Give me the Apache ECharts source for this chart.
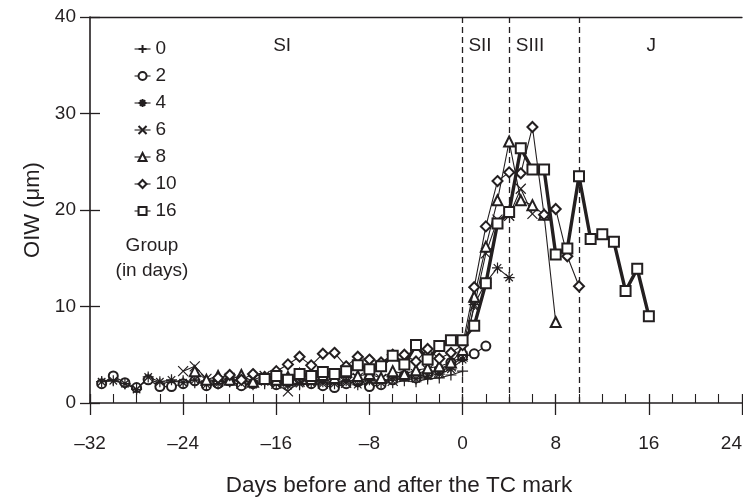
<!DOCTYPE html>
<html>
<head>
<meta charset="utf-8">
<script src="https://cdn.jsdelivr.net/npm/echarts@6/dist/echarts.min.js"></script>
<style>
html,body{margin:0;padding:0;background:#fff;}
#chart{width:743px;height:504px;}
</style>
</head>
<body>
<div id="chart"></div>
<script>
// ---- Data (OIW in µm by day relative to the TC mark) ----
const groupNames = ['0', '2', '4', '6', '8', '10', '16'];
const startDays = [-31, -31, -31, -24, -23, -21, -17];

const oiw0 = [2.2, 2.4, 2.0, 1.5, 2.5, 2.0, 2.2, 2.3, 2.1, 2.3, 2.0, 2.2, 1.9, 2.1, 2.0, 2.2, 2.0, 1.9, 2.1, 2.0, 1.8, 2.1, 2.2, 2.0, 2.3, 2.1, 2.3, 2.2, 2.5, 2.6, 2.9, 3.3];
const oiw2 = [2.0, 2.8, 2.1, 1.6, 2.4, 1.7, 1.7, 2.0, 2.3, 1.8, 2.0, 2.3, 1.8, 2.0, 2.4, 1.9, 2.2, 2.5, 2.0, 1.8, 1.6, 2.0, 2.2, 1.7, 1.9, 2.4, 2.8, 2.6, 3.0, 3.4, 4.2, 4.8, 5.1, 5.9];
const oiw4 = [2.2, 2.3, 2.0, 1.4, 2.7, 2.2, 2.4, 2.1, 2.4, 1.9, 2.0, 2.2, 2.5, 1.9, 2.2, 2.0, 1.8, 2.0, 2.1, 2.2, 2.0, 2.3, 1.9, 2.4, 2.1, 2.6, 2.9, 2.5, 2.8, 3.0, 3.5, 4.5, 10.2, 12.5, 14.0, 13.0];
const oiw6 = [3.3, 3.8, 2.5, 2.2, 2.6, 2.0, 2.4, 2.8, 2.0, 1.2, 2.2, 2.5, 2.0, 2.4, 2.1, 2.6, 2.2, 2.5, 2.3, 2.7, 3.0, 3.4, 3.2, 3.8, 4.8, 10.0, 15.5, 19.0, 19.4, 22.2, 19.6];
const oiw8 = [3.3, 2.4, 2.8, 2.4, 2.9, 2.2, 2.6, 2.4, 2.7, 3.0, 2.5, 2.9, 2.6, 3.2, 2.8, 3.0, 2.6, 3.3, 3.0, 3.4, 3.6, 3.8, 4.2, 5.5, 11.0, 16.2, 21.0, 27.1, 21.0, 20.5, 19.5, 8.4];
const oiw10 = [2.6, 2.9, 2.4, 3.0, 2.7, 3.3, 4.0, 4.8, 3.9, 5.1, 5.2, 3.8, 4.8, 4.5, 4.2, 5.0, 5.0, 4.3, 5.6, 4.6, 5.2, 6.0, 12.0, 18.3, 23.0, 23.9, 23.8, 28.6, 19.5, 20.1, 15.2, 12.1];
const oiw16 = [2.5, 2.8, 2.4, 3.0, 2.8, 3.2, 3.0, 3.3, 3.9, 3.5, 3.8, 4.9, 4.0, 6.0, 4.5, 5.9, 6.5, 6.5, 8.0, 12.4, 18.6, 19.8, 26.4, 24.2, 24.2, 15.4, 16.0, 23.5, 17.0, 17.5, 16.7, 11.6, 13.9, 9.0];
const allValues = [oiw0, oiw2, oiw4, oiw6, oiw8, oiw10, oiw16];

// stage boundaries and labels
const stageLines = [0, 4, 10];
const stageLabels = ['SI', 'SII', 'SIII', 'J'];
const stageLabelDays = [-15.5, 1.5, 5.8, 16.2];
const stageLabelLevel = 37.0;

const xTicks = {min: -32, max: 24, interval: 8};
const yTicks = {min: 0, max: 40, interval: 10};

// ---- Styling ----
const INK = '#231f20';
const FONT = 'Liberation Sans, Arial, Helvetica, sans-serif';
const symbols = [
  'path://M0,5L10,5M5,0L5,10',
  'emptyCircle',
  'path://M0,5L10,5M5,0L5,10M1.6,1.6L8.4,8.4M8.4,1.6L1.6,8.4',
  'path://M0,0L10,10M10,0L0,10',
  'emptyTriangle',
  'emptyDiamond',
  'emptyRect'
];
const symbolSizes = [11, 9, 11, 10, 10, 10, 10];
const lineWidths = [1.1, 1.1, 1.1, 1.1, 1.1, 1.1, 3.4];

const chart = echarts.init(document.getElementById('chart'), null, {renderer: 'canvas'});

function fmtX(v) { return v < 0 ? '\u2013' + Math.abs(v) : String(v); }

const series = groupNames.map((name, i) => {
  const data = allValues[i].map((v, k) => [startDays[i] + k, v]);
  const s = {
    name: name,
    type: 'line',
    data: data,
    symbol: symbols[i],
    symbolSize: symbolSizes[i],
    symbolKeepAspect: true,
    showAllSymbol: true,
    lineStyle: {color: INK, width: lineWidths[i]},
    itemStyle: {color: INK, borderColor: INK, borderWidth: 1.2},
    emphasis: {disabled: true},
    animation: false,
    z: 2 + i
  };
  if (i === 0) {
    s.markLine = {
      silent: true,
      symbol: ['none', 'none'],
      label: {show: false},
      lineStyle: {color: INK, type: [6, 4], width: 1.3},
      data: stageLines.map(d => ({xAxis: d}))
    };
  }
  return s;
});

const legendData = groupNames.map(n => ({name: n, lineStyle: {width: 1.1}}));

const option = {
  backgroundColor: '#fff',
  animation: false,
  grid: {left: 90, right: 1, top: 17, bottom: 101, containLabel: false, outerBoundsMode: 'none'},
  legend: {
    orient: 'vertical',
    left: 129,
    top: 34,
    itemWidth: 16,
    itemHeight: 10,
    itemGap: 7,
    data: legendData,
    selectedMode: false,
    textStyle: {fontFamily: FONT, fontSize: 19, color: INK, lineHeight: 20}
  },
  xAxis: [
    {
      type: 'value', position: 'bottom', min: xTicks.min, max: xTicks.max, interval: xTicks.interval,
      axisLine: {show: true, onZero: false, lineStyle: {color: INK, width: 1.6}},
      axisTick: {show: true, inside: true, length: 9, lineStyle: {color: INK, width: 1.3}},
      minorTick: {show: true, splitNumber: 4, length: 9, lineStyle: {color: INK, width: 1.1}},
      splitLine: {show: false},
      axisLabel: {formatter: fmtX, fontFamily: FONT, fontSize: 19, color: INK, margin: 31, alignMaxLabel: 'right'},
      name: 'Days before and after the TC mark',
      nameLocation: 'middle',
      nameGap: 71,
      nameTextStyle: {fontFamily: FONT, fontSize: 22.5, color: INK, padding: [0, 34, 0, 0]}
    },
    {
      type: 'value', position: 'bottom', min: xTicks.min, max: xTicks.max, interval: xTicks.interval,
      axisLine: {show: false, onZero: false},
      axisTick: {show: true, inside: false, length: 12, lineStyle: {color: INK, width: 1.3}},
      axisLabel: {show: false}, splitLine: {show: false}
    },
    {
      type: 'value', position: 'top', min: xTicks.min, max: xTicks.max, interval: xTicks.interval,
      axisLine: {show: true, onZero: false, lineStyle: {color: INK, width: 1.3}},
      axisTick: {show: false}, axisLabel: {show: false}, splitLine: {show: false}
    }
  ],
  yAxis: [
    {
      type: 'value', position: 'left', min: yTicks.min, max: yTicks.max, interval: yTicks.interval,
      axisLine: {show: true, onZero: false, lineStyle: {color: INK, width: 1.6}},
      axisTick: {show: true, inside: true, length: 10, lineStyle: {color: INK, width: 1.3}},
      splitLine: {show: false},
      axisLabel: {fontFamily: FONT, fontSize: 19, color: INK, margin: 14},
      name: 'OIW (\u03bcm)',
      nameLocation: 'middle',
      nameGap: 46,
      nameRotate: 90,
      nameTextStyle: {fontFamily: FONT, fontSize: 22, color: INK}
    },
    {
      type: 'value', position: 'left', min: yTicks.min, max: yTicks.max, interval: yTicks.interval,
      axisLine: {show: false, onZero: false},
      axisTick: {show: true, inside: false, length: 10, lineStyle: {color: INK, width: 1.3}},
      axisLabel: {show: false}, splitLine: {show: false}
    }
  ],
  series: series
};
chart.setOption(option);

// annotations placed through the axis scale
const labelY = chart.convertToPixel({yAxisIndex: 0}, stageLabelLevel);
const graphics = stageLabels.map((t, i) => ({
  type: 'text',
  x: chart.convertToPixel({xAxisIndex: 0}, stageLabelDays[i]),
  y: labelY,
  style: {text: t, fontFamily: FONT, fontSize: 19, fill: INK, textAlign: 'center', textVerticalAlign: 'middle'},
  silent: true
}));
graphics.push({
  type: 'text', x: 152, y: 246,
  style: {text: 'Group', fontFamily: FONT, fontSize: 19, fill: INK, textAlign: 'center', textVerticalAlign: 'middle'}
});
graphics.push({
  type: 'text', x: 152, y: 271,
  style: {text: '(in days)', fontFamily: FONT, fontSize: 19, fill: INK, textAlign: 'center', textVerticalAlign: 'middle'}
});
chart.setOption({graphic: graphics});
</script>
</body>
</html>
